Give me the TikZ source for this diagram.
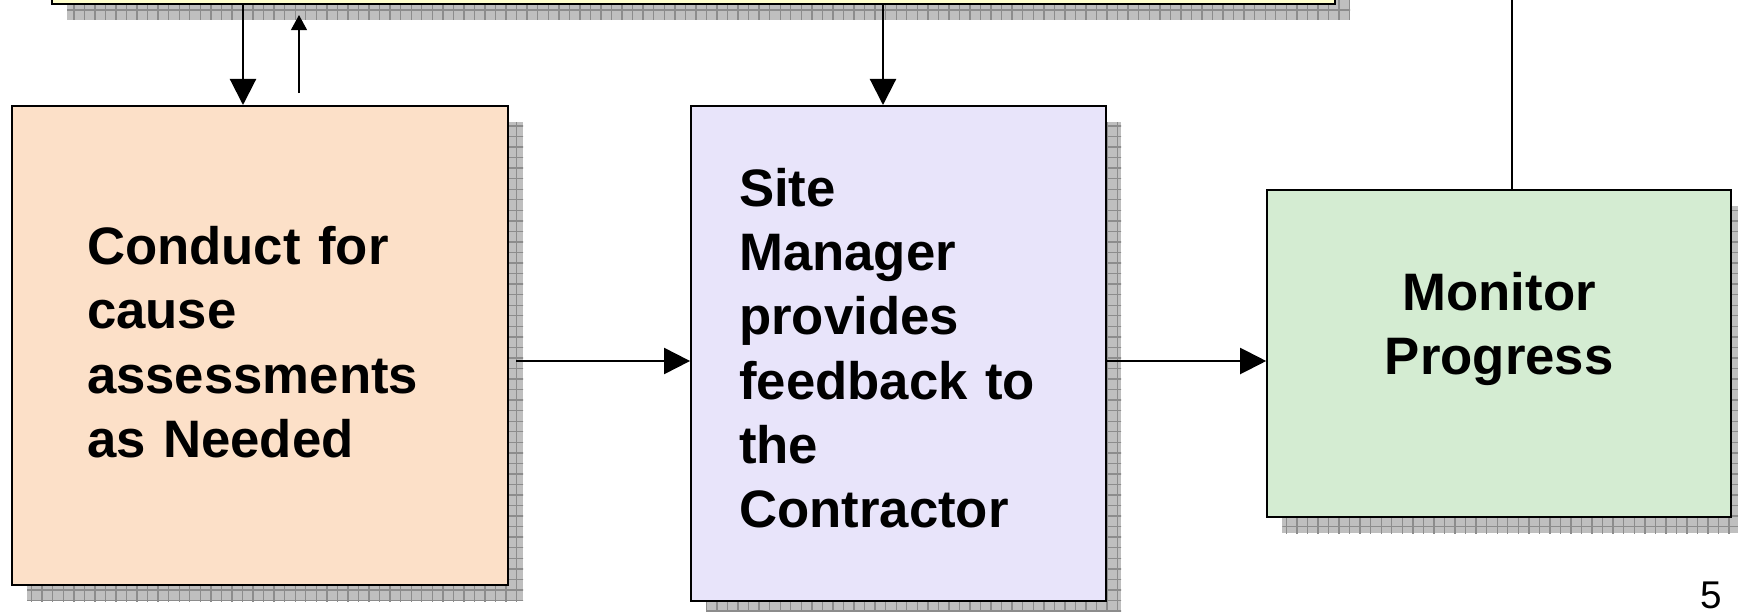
\documentclass[tikz,border=0pt]{standalone}
\usepackage{fontspec}
\setmainfont{Liberation Sans}
\usetikzlibrary{arrows.meta, positioning, calc, shadows, patterns}

\definecolor{planfill}{RGB}{255,255,204}
\definecolor{causefill}{RGB}{252,224,200}
\definecolor{feedbackfill}{RGB}{232,228,250}
\definecolor{monitorfill}{RGB}{212,236,210}

\begin{document}
\begin{tikzpicture}[
        x=0.1mm, y=-0.1mm,
        boxtext/.style={font=\bfseries\fontsize{15}{18.3}\selectfont},
        box/.style={rectangle, draw, line width=0.6pt,
            drop shadow={shadow xshift=1.5mm, shadow yshift=-1.6mm, opacity=1, fill=black!25,
                postaction={pattern=grid, pattern color=black!45}}},
        arr/.style={-{Triangle[length=7.4pt, width=7.4pt]}, line width=0.6pt},
        smallarr/.style={-{Triangle[length=4.3pt, width=4.5pt]}, line width=0.6pt}
    ]
    \useasboundingbox (0,0) rectangle (1738,611);
    \clip (0,0) rectangle (1738,611);

    % Boxes
    \node[box, fill=planfill, minimum width=128.3mm, minimum height=20mm, anchor=south west] (plan) at (51,5) {};
    \node[box, fill=causefill, minimum width=49.6mm, minimum height=47.9mm, anchor=north west,
        label={[boxtext, text width=34.6mm, align=left, yshift=0.33mm]center:{Conduct for\\cause\\assessments\\as Needed}}]
        (cause) at (11,105) {};
    \node[box, fill=feedbackfill, minimum width=41.5mm, minimum height=49.5mm,
        right=18.1mm of cause.north east, anchor=north west,
        label={[boxtext, text width=31.9mm, align=left, yshift=0.55mm]center:{Site\\Manager\\provides\\feedback to\\the\\Contractor}}]
        (feedback) {};
    \node[box, fill=monitorfill, minimum width=46.4mm, minimum height=32.7mm, right=15.9mm of feedback,
        label={[boxtext, align=center, yshift=2.45mm]center:{Monitor\\Progress}}] (monitor) {};

    % Connectors
    \coordinate (upstart) at (299,93);
    \coordinate (uptop) at (1512,-10);
    \draw[arr] (243,0 |- plan.south) -- (243,0 |- cause.north);
    \draw[smallarr, shorten >=1mm] (upstart) -- (upstart |- plan.south);
    \draw[arr] (883,0 |- plan.south) -- (883,0 |- feedback.north);
    \draw[arr, shorten <=0.7mm] (cause.east |- 0,361) -- (feedback.west |- 0,361);
    \draw[arr] (feedback.east |- 0,361) -- (monitor.west |- 0,361);
    \draw[line width=0.6pt] (uptop |- monitor.north) -- (uptop);

    % Page number
    \node[font=\fontsize{11}{13}\selectfont] (pagenum) at (1711,595) {5};
\end{tikzpicture}
\end{document}
